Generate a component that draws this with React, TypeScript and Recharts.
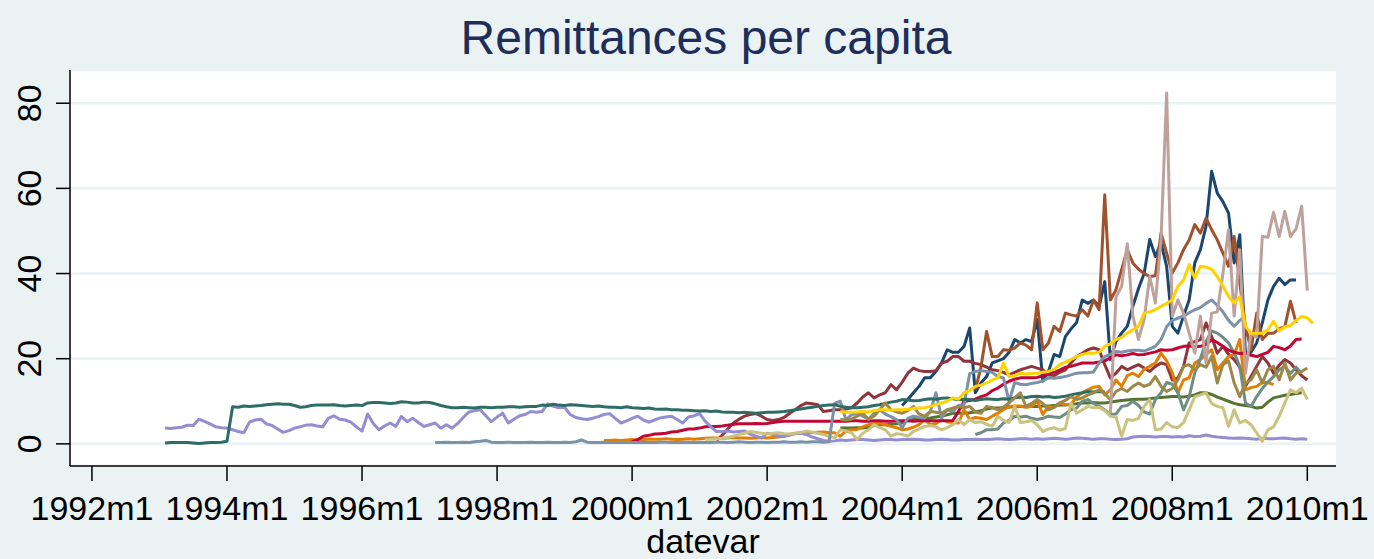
import { CartesianGrid, Line, LineChart, XAxis, YAxis } from "recharts";

// months are counted from 1992m1 (= 0)
const TICK_YEARS = [1992, 1994, 1996, 1998, 2000, 2002, 2004, 2006, 2008, 2010];
const Y_TICKS = [0, 20, 40, 60, 80];

const emeraldStart = 13;
const emerald = [
  0.2, 0.3, 0.3, 0.3, 0.3, 0.2, 0.1, 0.2, 0.3, 0.3, 0.4, 0.6,
  8.7, 8.6, 8.9, 8.8, 8.9, 9.0, 9.2, 9.3, 9.4, 9.3, 9.3, 9.0,
  8.6, 8.7, 9.0, 9.1, 9.1, 9.1, 9.2, 9.0, 8.9, 9.0, 9.1, 9.0,
  9.6, 9.7, 9.7, 9.6, 9.5, 9.6, 9.9, 9.8, 9.6, 9.6, 9.8, 9.7,
  9.4, 9.0, 8.7, 8.5, 8.5, 8.6, 8.5, 8.4, 8.6, 8.6, 8.5, 8.6,
  8.6, 8.7, 8.7, 8.6, 8.7, 8.8, 8.8, 9.1, 9.0, 9.3, 9.1, 9.0,
  9.2, 9.1, 9.0, 8.9, 8.8, 8.9, 8.7, 8.6, 8.6, 8.5, 8.7, 8.5,
  8.4, 8.3, 8.4, 8.2, 8.1, 8.2, 8.0, 8.0, 7.9, 7.9, 7.8, 7.7,
  7.8, 7.6, 7.7, 7.5, 7.4, 7.4, 7.3, 7.4, 7.3, 7.2, 7.3, 7.4,
  7.4, 7.5, 7.6, 7.8, 8.0, 8.2, 8.4, 8.6, 8.8, 9.0, 9.1, 9.2,
  8.8, 8.6, 8.5, 8.5, 8.6, 8.7, 9.0, 9.2, 9.5, 9.8, 10.0, 10.4,
  10.3, 10.1, 10.2, 10.4, 10.6, 10.5, 10.7, 10.8, 10.6, 10.4, 10.5, 10.4,
  10.2, 10.4, 10.6, 10.5, 10.4, 10.6, 10.5, 10.8, 11.0, 10.9, 11.1, 11.2,
  11.0, 11.1, 10.9, 11.0, 11.2, 11.5, 11.8, 12.0, 12.3, 12.2, 12.3, 12.2,
];

const lavenderStart = 13;
const lavender = [
  3.7, 3.6, 3.8, 3.9, 4.4, 4.3, 5.8, 5.3, 4.7, 4.0, 3.8, 3.7,
  3.3, 2.9, 2.6, 5.1, 5.6, 5.8, 4.7, 4.3, 3.5, 2.7, 3.1, 3.7,
  4.0, 4.4, 4.5, 4.2, 4.0, 6.0, 6.6, 5.8, 5.6, 5.1, 4.0, 3.0,
  7.0, 4.8, 3.3, 4.2, 4.9, 4.1, 6.4, 5.2, 6.0, 5.0, 4.1, 4.5,
  4.9, 3.7, 4.5, 3.7, 4.8, 6.2, 7.5, 7.8, 8.0, 6.6, 5.2, 6.3,
  7.2, 4.9, 5.8, 6.6, 6.9, 7.6, 7.4, 7.6, 9.4, 8.8, 8.5, 8.6,
  6.9, 6.2, 5.9, 5.7, 6.0, 6.4, 6.9, 7.1, 6.0, 4.9, 5.4, 6.0,
  6.5, 5.6, 5.1, 5.6, 6.1, 6.3, 6.5, 5.7, 4.9, 6.3, 6.6, 7.1,
  5.3, 4.0, 2.9, 2.9, 3.0, 2.8, 2.9, 3.0, 2.3, 1.8, 1.4, 2.5,
  2.2, 1.9, 1.8, 2.0, 2.4, 2.5, 2.2, 1.6, 1.2, 0.8, 0.6, 0.7,
  0.9, 0.8, 0.9, 1.0, 1.0, 0.9, 0.8, 0.9, 1.0, 1.0, 0.9, 1.0,
  1.0, 1.1, 1.0, 0.9, 0.9, 1.0, 1.1, 1.0, 0.9, 0.9, 1.0, 1.0,
  1.1, 1.0, 1.0, 1.1, 1.2, 1.1, 1.0, 1.1, 1.2, 1.2, 1.1, 1.2,
  1.1, 1.2, 1.3, 1.2, 1.1, 1.2, 1.4, 1.3, 1.2, 1.1, 1.2, 1.2,
  1.1, 1.0, 1.1, 1.2, 1.6, 1.7, 1.8, 1.7, 1.6, 1.7, 1.7, 1.6,
  1.7, 1.6, 1.9, 1.7, 1.8, 2.1, 1.8, 1.6, 1.5, 1.4, 1.3, 1.4,
  1.3, 1.2, 1.1, 1.3, 1.2, 1.2, 1.3, 1.4, 1.2, 1.1, 1.2, 1.1,
];

const emidblueStart = 61;
const emidblue = [
  0.3, 0.3, 0.4, 0.3, 0.3, 0.4, 0.3, 0.5, 0.6, 0.8, 0.4, 0.3,
  0.3, 0.4, 0.3, 0.3, 0.3, 0.4, 0.3, 0.3, 0.4, 0.3, 0.3, 0.4,
  0.3, 0.5, 0.9, 0.4, 0.3, 0.3, 0.4, 0.3, 0.3, 0.4, 0.3, 0.3,
  0.3, 0.4, 0.3, 0.3, 0.4, 0.4, 0.3, 0.3, 0.4, 0.3, 0.3, 0.4,
  0.3, 0.3, 0.4, 0.4, 0.3, 0.4, 0.5, 0.4, 0.3, 0.4, 0.4, 0.3,
  0.4, 0.4, 0.5, 0.4, 0.4, 0.5, 0.4, 0.5, 0.5, 0.4, 0.5,
  9.5, 10.0, 5.7, 6.8, 7.2, 6.5, 5.8, 7.2, 8.0, 7.0, 6.4, 5.7,
  3.8, 6.0, 6.5, 6.2, 6.1, 7.5, 12.0, 6.1, 8.0, 7.6, 9.0, 9.2,
  16.5, 17.0, 17.2, 17.0, 16.8, 15.8, 15.5, 10.0, 14.4, 14.0, 13.9, 14.2,
  14.4, 14.8, 15.5, 15.4, 15.6, 15.8, 16.2, 16.6, 16.7, 16.7, 16.9, 19.0,
  20.5, 21.0, 21.7, 21.5, 21.8, 22.0, 22.0, 21.8, 22.3, 22.9, 24.5, 27.5,
  29.0, 29.5, 30.0, 30.8, 31.5, 32.0, 33.0, 33.8, 32.5, 31.0, 29.0, 27.6,
  29.0, 30.0,
];

const cranberryStart = 96;
const cranberry = [
  0.5, 1.0, 1.8, 2.0, 2.3, 2.4, 2.5, 2.8, 2.9, 3.2, 3.5, 3.5,
  3.7, 4.0, 4.1, 4.1, 4.2, 4.4, 4.6, 4.7, 4.7, 4.7, 4.8, 4.7,
  4.8, 5.0, 5.2, 5.3, 5.3, 5.3, 5.3, 5.3, 5.3, 5.3, 5.3, 5.3,
  5.3, 5.3, 5.3, 5.4, 5.4, 5.3, 5.3, 5.4, 5.4, 5.3, 5.3, 5.4,
  5.4, 5.4, 5.3, 5.4, 5.4, 5.4, 5.4, 5.4, 5.4, 5.5, 7.6, 10.0,
  10.2, 10.5, 11.1, 11.5, 12.5, 13.1, 14.0, 14.7, 15.2, 15.5, 15.5, 15.5,
  15.6, 16.0, 16.6, 16.8, 17.3, 18.0, 18.2, 18.6, 19.0, 19.0, 19.0, 19.2,
  19.5, 20.2, 20.9, 20.7, 20.9, 21.2, 20.9, 21.0, 21.3, 21.6, 22.1, 22.0,
  22.1, 22.5, 22.9, 23.0, 22.8, 22.9, 23.3, 24.5, 23.8, 22.9, 22.0, 21.5,
  21.2, 21.3, 20.8, 20.5, 21.0, 21.5, 22.9, 22.6, 22.1, 23.0, 24.5, 24.6,
];

const dkorangeStart = 91;
const dkorange = [
  0.8, 0.8, 0.9, 0.8, 0.9, 1.0, 0.9, 1.0, 1.1, 1.1, 1.1, 1.2,
  1.1, 1.0, 1.1, 1.2, 1.1, 1.2, 1.3, 1.4, 1.4, 1.3, 1.4, 1.5,
  1.4, 1.4, 1.3, 1.4, 1.5, 1.4, 1.5, 1.6, 1.8, 2.2, 2.5, 2.6,
  2.7, 2.6, 2.7, 2.8, 2.6, 2.6, 1.8, 3.0, 3.3, 3.4, 4.0, 4.5,
  4.8, 4.9, 4.5, 4.1, 3.8, 3.3, 3.5, 3.9, 4.5, 5.7, 4.5, 4.8,
  5.7, 5.2, 5.0, 4.9, 8.0, 5.7, 6.2, 6.0, 5.7, 6.5, 7.2, 8.0,
  8.8, 8.9, 8.9, 8.6, 8.8, 10.0, 6.9, 8.8, 8.5, 9.6, 9.2, 9.3,
  11.0, 12.0, 12.7, 13.3, 13.5, 11.5, 12.7, 15.0, 13.5, 16.0, 16.6, 15.8,
  17.5, 18.2, 19.0, 21.3, 19.5, 16.7, 12.0, 15.0, 15.5, 19.0, 19.8, 21.0,
  22.1, 17.4, 19.0, 20.5, 21.0, 24.5, 12.7, 13.2, 13.5, 14.4, 14.4, 13.9,
];

const khakiStart = 109;
const khaki = [
  1.0, 1.1, 1.2, 1.3, 1.5, 1.8, 2.2, 2.5, 2.9, 2.7, 2.5, 2.3,
  2.5, 2.6, 2.4, 2.3, 2.5, 2.7, 3.0, 2.8, 2.5, 2.2, 1.8, 1.4,
  3.3, 3.0, 2.6, 1.0, 2.5, 3.3, 4.5, 3.8, 3.3, 1.8, 2.4, 2.2,
  1.8, 2.9, 3.5, 4.1, 4.3, 4.0, 3.3, 3.8, 4.5, 5.7, 4.5, 5.7,
  5.0, 5.2, 4.6, 4.1, 6.5, 5.5, 5.0, 8.8, 5.0, 5.2, 5.5, 4.5,
  2.9, 3.5, 3.8, 3.2, 3.6, 9.6, 7.2, 8.0, 8.8, 8.5, 8.6, 7.8,
  6.5, 6.3, 1.8, 5.7, 5.5, 6.0, 8.8, 10.4, 3.3, 3.5, 5.0, 4.0,
  3.8, 5.0, 8.0, 11.1, 11.5, 12.0, 9.5, 8.8, 8.5, 4.1, 8.0, 4.9,
  5.5, 4.5, 2.6, 0.6, 3.3, 4.0, 6.5, 9.6, 12.7, 12.0, 13.1, 10.4,
];

const tealStart = 157;
const teal = [
  2.2, 2.6, 3.3, 3.3, 3.5, 4.9, 5.5, 6.5, 6.3, 6.5, 6.0, 5.7,
  6.0, 6.5, 6.3, 6.2, 7.0, 8.0, 8.4, 10.0, 10.4, 9.5, 8.8, 8.0,
  6.9, 7.0, 8.8, 9.0, 10.0, 9.0, 7.5, 7.0, 10.4, 12.0, 14.4, 14.0,
  12.0, 8.0, 11.0, 16.7, 20.0, 24.0, 26.5, 26.0, 25.0, 23.7, 21.4, 18.2,
  9.6, 8.8, 11.1, 13.0, 14.5, 15.8, 17.4, 18.2, 16.5, 18.0, 16.6,
];

const forestStart = 133;
const forest = [
  3.7, 3.7, 3.7, 3.8, 3.7, 3.9, 4.3, 4.5, 4.5, 4.6, 4.7, 5.0,
  5.4, 5.7, 5.8, 6.0, 6.1, 6.3, 6.5, 6.8, 7.2, 7.2, 7.2, 7.3,
  7.5, 7.8, 8.2, 8.4, 8.4, 8.5, 8.6, 8.8, 8.8, 8.7, 8.8, 8.8,
  8.9, 8.9, 9.0, 9.1, 9.1, 9.3, 9.4, 9.6, 9.6, 9.7, 9.6, 9.6,
  9.8, 10.0, 10.2, 10.3, 10.4, 10.5, 10.5, 10.6, 10.8, 10.9, 11.0, 11.1,
  11.1, 11.0, 11.2, 11.5, 12.0, 12.0, 11.6, 11.0, 10.5, 10.0, 9.5, 9.2,
  9.0, 8.8, 8.4, 8.6, 9.8, 10.8, 11.1, 11.4, 11.6, 11.8, 12.0,
];

const brownStart = 133;
const brown = [
  5.7, 5.6, 5.8, 6.5, 7.2, 5.8, 6.5, 8.0, 9.6, 8.0, 7.5, 7.2,
  7.8, 8.8, 7.0, 6.5, 7.6, 7.4, 7.2, 8.0, 8.4, 8.8, 8.5, 8.8,
  7.5, 7.2, 8.8, 8.5, 8.0, 8.6, 9.6, 10.8, 12.0, 8.8, 9.5, 10.4,
  9.5, 8.0, 8.6, 9.6, 10.2, 11.1, 10.4, 10.8, 11.5, 12.0, 12.7, 11.8,
  10.4, 12.3, 13.0, 12.3, 13.5, 14.3, 13.5, 14.0, 15.8, 13.5, 12.3, 13.0,
  15.0, 18.2, 18.6, 17.4, 18.6, 18.0, 20.5, 14.3, 18.6, 19.5, 14.3, 11.1,
  14.3, 15.0, 17.4, 14.3, 17.4, 18.2, 15.0, 19.0, 15.0, 16.6, 17.0, 17.8,
];

const maroonStart = 111;
const maroon = [
  0.8, 2.0, 3.5, 4.9, 5.8, 6.5, 6.9, 7.1, 6.5, 5.7, 5.5, 5.7,
  6.2, 7.2, 8.0, 9.0, 9.6, 9.4, 9.2, 7.6, 7.8, 8.0, 8.0, 8.2,
  8.5, 9.6, 11.0, 12.0, 10.8, 11.5, 12.0, 13.9, 12.7, 14.5, 16.6, 17.8,
  17.2, 17.0, 17.0, 17.2, 19.0, 19.4, 20.5, 20.5, 19.4, 19.4, 18.9, 18.6,
  18.0, 17.4, 17.2, 16.8, 16.2, 16.8, 17.4, 17.8, 18.2, 17.8, 17.4, 16.2,
  16.0, 16.8, 17.4, 19.0, 20.5, 21.3, 22.1, 22.5, 22.1, 18.6, 15.5, 16.6,
  18.2, 17.4, 18.0, 18.6, 17.8, 17.0, 18.2, 19.0, 18.6, 15.0, 15.5, 18.2,
  23.7, 24.0, 24.5, 28.4, 25.2, 21.3, 22.9, 21.0, 19.8, 18.0, 13.5, 15.8,
  18.2, 20.5, 19.0, 16.6, 18.5, 19.8, 19.0, 17.4, 16.0, 15.0,
];

const goldStart = 133;
const gold = [
  7.6, 7.4, 7.4, 7.5, 7.6, 7.5, 7.8, 8.0, 8.0, 7.9, 8.0, 8.0,
  8.1, 8.3, 8.4, 8.5, 8.8, 9.2, 9.6, 10.0, 10.8, 10.5, 12.0, 12.5,
  13.5, 13.8, 14.3, 15.0, 15.5, 19.0, 15.8, 16.0, 16.6, 16.4, 16.5, 16.6,
  16.8, 17.0, 17.5, 18.6, 19.2, 19.8, 20.5, 21.0, 21.3, 21.3, 21.5, 22.9,
  23.5, 24.5, 25.0, 26.0, 26.8, 27.6, 30.7, 31.0, 31.5, 32.3, 33.0, 33.8,
  37.0, 38.5, 42.1, 38.9, 41.7, 41.5, 41.0, 39.3, 37.0, 34.6, 33.1, 34.5,
  27.6, 26.0, 26.0, 26.0, 26.8, 28.8, 26.5, 27.5, 27.8, 29.0, 29.9, 29.6, 28.3,
];

const navyStart = 144;
const navy = [
  9.0, 10.4, 12.0, 13.5, 15.5, 15.5, 17.0, 19.0, 22.1, 21.5, 21.5, 22.9,
  27.2, 12.0, 14.3, 15.8, 19.0, 19.5, 20.0, 21.5, 24.5, 23.7, 24.5, 24.0,
  29.2, 14.7, 17.0, 21.0, 20.5, 25.2, 27.0, 28.5, 33.8, 33.0, 33.8, 32.3,
  38.1, 19.8, 24.0, 26.0, 27.6, 32.3, 36.5, 40.0, 48.0, 44.0, 47.2, 41.7,
  27.6, 26.0, 30.0, 33.8, 42.5, 45.6, 51.1, 64.0, 58.9, 56.9, 54.2, 42.5,
  49.1, 21.3, 21.5, 23.7, 28.4, 33.8, 37.0, 38.9, 37.4, 38.5, 38.5,
];

const siennaStart = 157;
const sienna = [
  12.7, 18.0, 26.4, 20.5, 20.5, 22.1, 22.0, 22.5, 23.7, 23.2, 22.1, 33.1,
  22.1, 23.7, 27.6, 26.4, 30.7, 30.3, 30.0, 31.5, 30.0, 33.8, 31.5, 58.5,
  33.8, 36.2, 40.9, 45.6, 42.5, 41.0, 40.0, 39.3, 39.5, 49.5, 44.8, 40.1,
  42.5, 45.6, 47.9, 51.5, 49.5, 53.0, 50.3, 47.9, 44.8, 41.7, 48.7, 37.8,
  27.6, 22.1, 30.7, 24.5, 26.0, 26.0, 27.0, 27.5, 33.5, 28.4,
];

const eroseStart = 181;
const erose = [
  7.2, 34.5, 37.0, 47.0, 30.0, 24.5, 29.2, 39.3, 33.1, 47.9, 82.4, 29.9,
  33.8, 30.7, 26.0, 21.3, 30.0, 19.0, 30.7, 31.0, 40.0, 50.3, 30.0, 45.6,
  16.6, 26.0, 25.0, 48.7, 48.5, 54.4, 48.7, 54.6, 48.7, 50.5, 55.8, 36.0,
];

// drawing order follows the stata palette p1..p14
const SERIES = [
  { key: "navy", color: "#1a476f", start: navyStart, values: navy },
  { key: "maroon", color: "#90353b", start: maroonStart, values: maroon },
  { key: "forest", color: "#55752f", start: forestStart, values: forest },
  { key: "dkorange", color: "#e37e00", start: dkorangeStart, values: dkorange },
  { key: "teal", color: "#6e8e84", start: tealStart, values: teal },
  { key: "cranberry", color: "#c10534", start: cranberryStart, values: cranberry },
  { key: "lavender", color: "#938dd2", start: lavenderStart, values: lavender },
  { key: "khaki", color: "#cac27e", start: khakiStart, values: khaki },
  { key: "sienna", color: "#a0522d", start: siennaStart, values: sienna },
  { key: "emidblue", color: "#7b92a8", start: emidblueStart, values: emidblue },
  { key: "emerald", color: "#2d6d66", start: emeraldStart, values: emerald },
  { key: "brown", color: "#9c8847", start: brownStart, values: brown },
  { key: "erose", color: "#bfa19c", start: eroseStart, values: erose },
  { key: "gold", color: "#ffd200", start: goldStart, values: gold },
];

const FIRST = 13;
const LAST = 217;

const rows: Record<string, number>[] = [];
for (let m = FIRST; m <= LAST; m++) rows.push({ m });
SERIES.forEach((s) => {
  s.values.forEach((v, i) => {
    rows[s.start + i - FIRST][s.key] = v;
  });
});

const FONT = '"Liberation Sans", Arial, sans-serif';

const XTick = (props: any) => {
  const { x, payload } = props;
  const year = 1992 + payload.value / 12;
  return (
    <text x={x} y={520} textAnchor="middle" fontSize={34} fontFamily={FONT} fill="#000">
      {`${year}m1`}
    </text>
  );
};

const YTick = (props: any) => {
  const { y, payload } = props;
  return (
    <text
      x={41.5}
      y={y}
      transform={`rotate(-90, 41.5, ${y})`}
      textAnchor="middle"
      fontSize={34}
      fontFamily={FONT}
      fill="#000"
    >
      {payload.value}
    </text>
  );
};

export default function App() {
  return (
    <div style={{ position: "relative", width: 1374, height: 559, background: "#eaf2f3" }}>
      <style>{"body{margin:0}"}</style>
      <LineChart
        width={1374}
        height={559}
        data={rows}
        margin={{ top: 70, right: 38, bottom: 0, left: 0 }}
      >
        <CartesianGrid vertical={false} stroke="#eaf2f3" strokeWidth={2.5} fill="#ffffff" />
        <XAxis
          dataKey="m"
          type="number"
          domain={[-3.9, 221.1]}
          ticks={TICK_YEARS.map((y) => (y - 1992) * 12)}
          height={93}
          tickSize={15}
          tick={<XTick />}
          axisLine={{ stroke: "#000", strokeWidth: 1.5 }}
          tickLine={{ stroke: "#000", strokeWidth: 1.5 }}
          allowDataOverflow
        />
        <YAxis
          type="number"
          domain={[-5.2, 87.8]}
          ticks={Y_TICKS}
          width={70}
          tickSize={14}
          tick={<YTick />}
          axisLine={{ stroke: "#000", strokeWidth: 1.5 }}
          tickLine={{ stroke: "#000", strokeWidth: 1.5 }}
          allowDataOverflow
        />
        {SERIES.map((s) => (
          <Line
            key={s.key}
            dataKey={s.key}
            type="linear"
            stroke={s.color}
            strokeWidth={3}
            strokeLinejoin="round"
            dot={false}
            isAnimationActive={false}
            connectNulls={false}
          />
        ))}
      </LineChart>
      <svg
        width={1374}
        height={559}
        style={{ position: "absolute", left: 0, top: 0, pointerEvents: "none" }}
      >
        <text x={706} y={53.5} textAnchor="middle" fontSize={48} fontFamily={FONT} fill="#1e2d5a">
          Remittances per capita
        </text>
        <text x={703} y={553} textAnchor="middle" fontSize={34} fontFamily={FONT} fill="#000">
          datevar
        </text>
      </svg>
    </div>
  );
}
